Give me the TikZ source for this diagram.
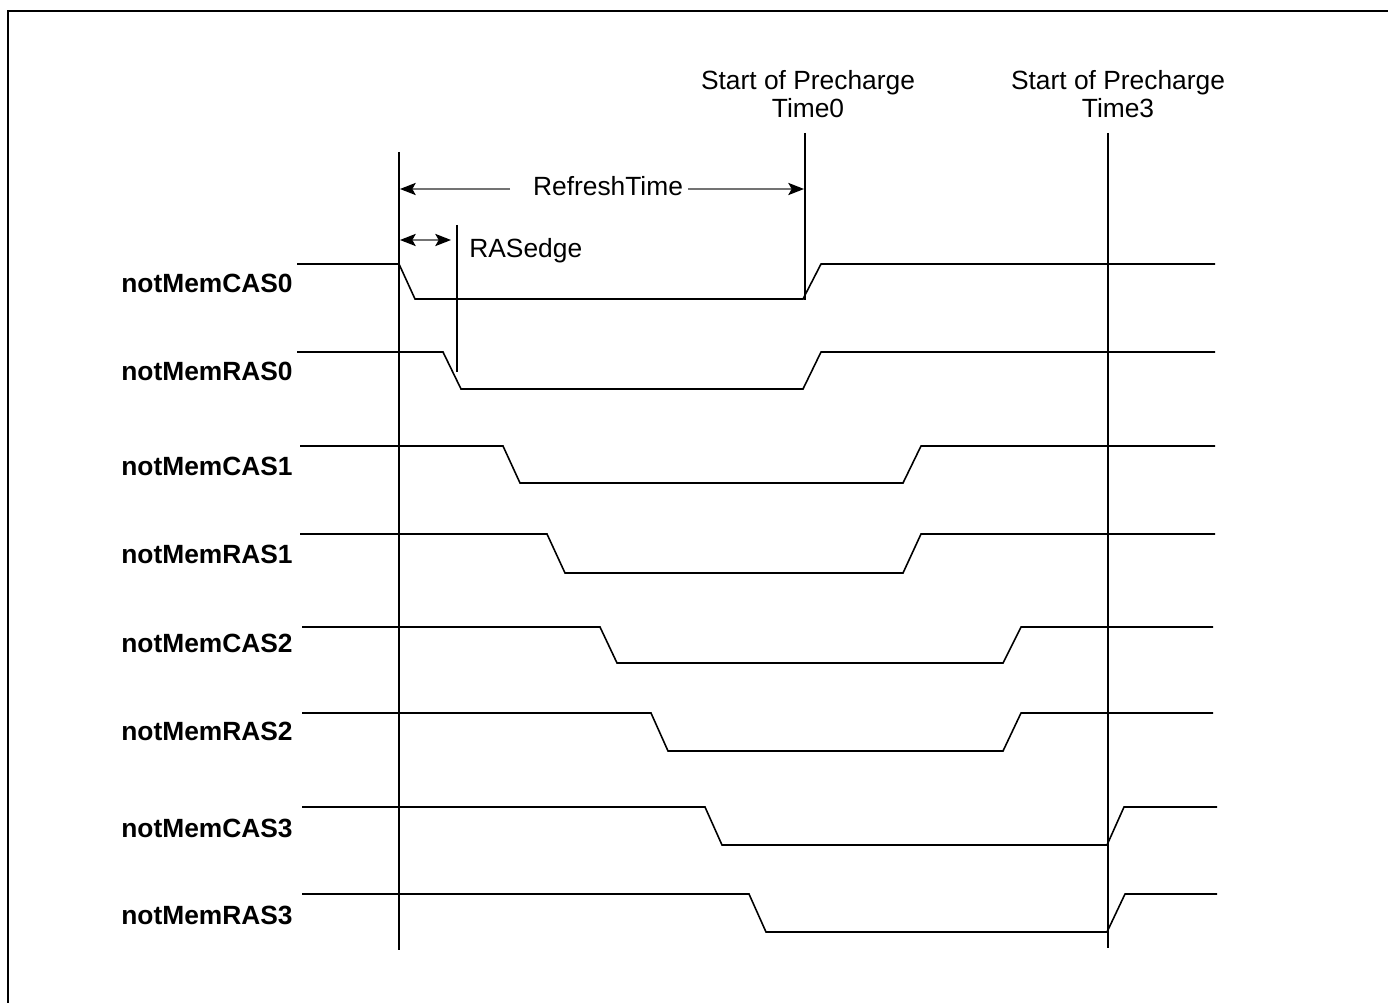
\documentclass[tikz,border=0pt]{standalone}
\usepackage{fontspec}
\setmainfont{Liberation Sans}
\usetikzlibrary{arrows.meta}

\tikzset{
  signal/.style={line width=0.9pt,line join=miter},
  marker/.style={line width=1.1pt},
  dim/.style={line width=0.7pt,draw=black!55,{Stealth[length=9pt,width=7pt,inset=2pt,black]}-{Stealth[length=9pt,width=7pt,inset=2pt,black]}},
  dimhalf/.style={line width=0.7pt,draw=black!55,-{Stealth[length=9pt,width=7pt,inset=2pt,black]}},
  sig/.style={font=\fontsize{15}{15}\selectfont\bfseries,anchor=east,inner sep=0pt},
  note/.style={font=\fontsize{15}{16}\selectfont,inner sep=0pt,align=center}
}

\begin{document}
\begin{tikzpicture}[x=0.02cm,y=-0.02cm,>=Latex]
  \useasboundingbox (0,0) rectangle (1388,1003);
  % frame
  \draw[line width=1pt] (1388,11) -- (8,11) -- (8,1003);

  % signal names
  \node[sig] (lcas0) at (293,283) {notMemCAS0};
  \node[sig] (lras0) at (293,371) {notMemRAS0};
  \node[sig] (lcas1) at (293,466) {notMemCAS1};
  \node[sig] (lras1) at (293,554) {notMemRAS1};
  \node[sig] (lcas2) at (293,643) {notMemCAS2};
  \node[sig] (lras2) at (293,731) {notMemRAS2};
  \node[sig] (lcas3) at (293,828) {notMemCAS3};
  \node[sig] (lras3) at (293,915) {notMemRAS3};

  % waveforms
  \draw[signal] (297,264) -- (399,264) -- (415,299) -- (803,299) -- (821,264) -- (1215,264);
  \draw[signal] (297,352) -- (443,352) -- (461,389) -- (803,389) -- (821,352) -- (1215,352);
  \draw[signal] (300,446) -- (503,446) -- (520,483) -- (903,483) -- (921,446) -- (1215,446);
  \draw[signal] (300,534) -- (547,534) -- (565,573) -- (903,573) -- (921,534) -- (1215,534);
  \draw[signal] (302,627) -- (600,627) -- (617,663) -- (1003,663) -- (1021,627) -- (1213,627);
  \draw[signal] (302,713) -- (651,713) -- (668,751) -- (1003,751) -- (1021,713) -- (1213,713);
  \draw[signal] (302,807) -- (705,807) -- (722,845) -- (1107,845) -- (1124,807) -- (1217,807);
  \draw[signal] (302,894) -- (749,894) -- (766,932) -- (1107,932) -- (1125,894) -- (1217,894);

  % timing markers
  \coordinate (refTop) at (399,152);
  \coordinate (refBot) at (399,950);
  \coordinate (rasTop) at (457,225);
  \coordinate (rasBot) at (457,372);
  \coordinate (pre0Top) at (805,133);
  \coordinate (pre0Bot) at (805,300);
  \coordinate (pre3Top) at (1108,133);
  \coordinate (pre3Bot) at (1108,948);
  \draw[marker] (refTop) -- (refBot);
  \draw[marker] (rasTop) -- (rasBot);
  \draw[marker] (pre0Top) -- (pre0Bot);
  \draw[marker] (pre3Top) -- (pre3Bot);

  \node[note] (pre0) at (808,94) {Start of Precharge\\Time0};
  \node[note] (pre3) at (1118,94) {Start of Precharge\\Time3};

  % RefreshTime
  \node[note,anchor=base] (refresh) at (608,196) {RefreshTime};
  \coordinate (refL) at (510,189);
  \coordinate (refR) at (688,189);
  \coordinate (refA) at (400,189);
  \coordinate (refB) at (804,189);
  \draw[dimhalf] (refL) -- (refA);
  \draw[dimhalf] (refR) -- (refB);

  % RASedge
  \node[note,anchor=base west] (rasedge) at (469,257) {RASedge};
  \coordinate (rasA) at (400,240);
  \coordinate (rasB) at (451,240);
  \draw[dim] (rasA) -- (rasB);
\end{tikzpicture}
\end{document}
